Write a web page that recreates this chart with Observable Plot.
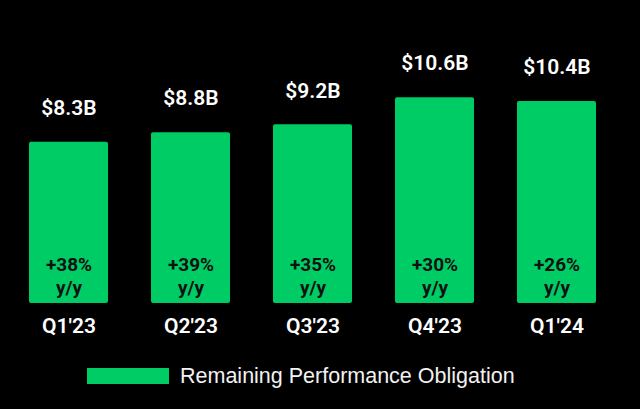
<!DOCTYPE html>
<html>
<head>
<meta charset="utf-8">
<script src="https://cdn.jsdelivr.net/npm/d3@7"></script>
<script src="https://cdn.jsdelivr.net/npm/@observablehq/plot@0.6"></script>
<style>
  html, body { margin: 0; padding: 0; background: #000; }
  #chart { width: 640px; height: 409px; background: #000; overflow: hidden; }
  .legend { display: flex; align-items: center; height: 30px; margin-top: 11px; padding-left: 87px;
            font-family: "Liberation Sans", Arial, sans-serif; font-size: 21.5px; color: #f2f2f2; }
  .legend .sw { width: 82px; height: 16px; background: #00cc66; margin-right: 11px; }
</style>
</head>
<body>
<div id="chart"></div>
<script>
const quarters = ["Q1'23", "Q2'23", "Q3'23", "Q4'23", "Q1'24"];
const rpo = [8.3, 8.8, 9.2, 10.6, 10.4];
const yoy = [38, 39, 35, 30, 26];
const seriesName = "Remaining Performance Obligation";

const data = quarters.map((q, i) => ({q, v: rpo[i], g: yoy[i]}));
const green = "#00cc66";

const plot = Plot.plot({
  width: 640,
  height: 350,
  marginTop: 70,
  marginBottom: 47,
  marginLeft: 6,
  marginRight: 20,
  style: {background: "#000", fontFamily: "Roboto, sans-serif"},
  x: {domain: quarters, paddingInner: 0.35, paddingOuter: 0.175, label: null},
  y: {domain: [0, 12], axis: null},
  marks: [
    Plot.barY(data, {x: "q", y: "v", fill: green, rx: 2}),
    Plot.text(data, {x: "q", y: "v", text: d => `$${d.v.toFixed(1)}B`, dy: -34,
      fill: "#fff", fontSize: 21, fontWeight: 600}),
    Plot.text(data, {x: "q", y: 0, text: d => `+${d.g}%\ny/y`, dy: -28, lineHeight: 1.2,
      fill: "#111", fontSize: 19, fontWeight: 700}),
    Plot.axisX({tickSize: 0, tickPadding: 15, fontSize: 21, fontWeight: 600, color: "#fff", label: null})
  ]
});
plot.style.color = "#fff";
const chart = document.getElementById("chart");
chart.appendChild(plot);
const legend = document.createElement("div");
legend.className = "legend";
legend.innerHTML = `<div class="sw"></div><span></span>`;
legend.querySelector("span").textContent = seriesName;
chart.appendChild(legend);
</script>
</body>
</html>
